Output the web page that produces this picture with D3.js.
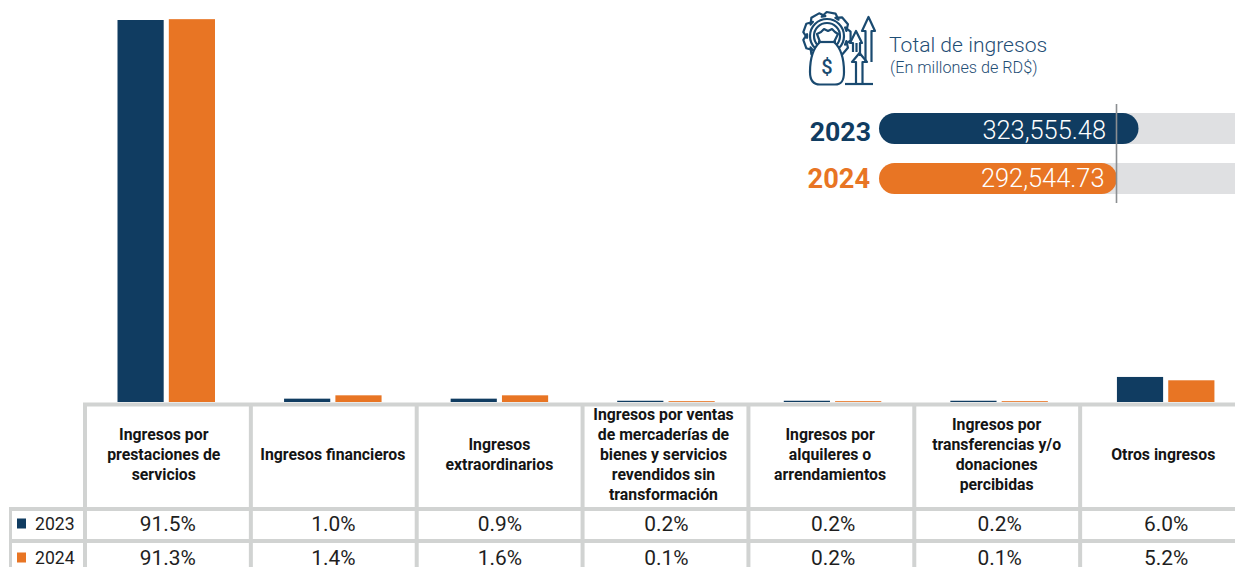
<!DOCTYPE html>
<html>
<head>
<meta charset="utf-8">
<title>Total de ingresos</title>
<script src="https://cdn.jsdelivr.net/npm/d3@7"></script>
<style>
  html, body { margin: 0; padding: 0; background: #fff; overflow: hidden; }
  text { font-family: Roboto, sans-serif; }
</style>
</head>
<body>
<div id="chart"></div>
<script>
var categories = [
  ['Ingresos por', 'prestaciones de', 'servicios'],
  ['Ingresos financieros'],
  ['Ingresos', 'extraordinarios'],
  ['Ingresos por ventas', 'de mercaderías de', 'bienes y servicios', 'revendidos sin', 'transformación'],
  ['Ingresos por', 'alquileres o', 'arrendamientos'],
  ['Ingresos por', 'transferencias y/o', 'donaciones', 'percibidas'],
  ['Otros ingresos']
]
var years = ['2023', '2024']
// bar heights as they read on the picture
var bars2023 = [91.5, 0.8, 0.8, 0.3, 0.3, 0.3, 6.0]
var bars2024 = [91.7, 1.6, 1.6, 0.2, 0.2, 0.2, 5.2]
// printed percentages in the table
var share2023 = ['91.5%', '1.0%', '0.9%', '0.2%', '0.2%', '0.2%', '6.0%']
var share2024 = ['91.3%', '1.4%', '1.6%', '0.1%', '0.2%', '0.1%', '5.2%']
var totals = [323555.48, 292544.73]

var navy = '#103c61'
var orange = '#e87524'
var grid = '#d1d3d2'
var colors = [navy, orange]

var w = 1235
var h = 567
var baseY = 402

var svg = d3.select('#chart').append('svg')
  .attr('width', w)
  .attr('height', h)
  .style('display', 'block')

var columns = d3.range(categories.length)

var x = d3.scaleBand().domain(columns).range([83.5, 1249.5])
var xTable = d3.scaleBand().domain(columns).range([85, 1246])
var y = d3.scaleLinear().domain([0, 91.5]).range([baseY, 20])
var xYear = d3.scaleBand().domain([0, 1]).range([34, 131.5]).paddingInner(0.1)

// bars
;[bars2023, bars2024].forEach(function (series, s) {
  svg.append('g').selectAll('rect')
    .data(series)
    .enter().append('rect')
    .attr('x', function (d, i) { return x(i) + xYear(s) })
    .attr('y', function (d) { return y(d) })
    .attr('width', xYear.bandwidth())
    .attr('height', function (d) { return baseY - y(d) })
    .attr('fill', colors[s])
})

// table grid
var rowLines = [404.5, 509, 541]
var gridG = svg.append('g').attr('stroke', grid).attr('stroke-width', 4)
rowLines.forEach(function (ry, i) {
  gridG.append('line')
    .attr('x1', i === 0 ? 83 : 9)
    .attr('x2', w)
    .attr('y1', ry)
    .attr('y2', ry)
})
columns.forEach(function (c) {
  gridG.append('line')
    .attr('x1', xTable(c))
    .attr('x2', xTable(c))
    .attr('y1', 403)
    .attr('y2', h)
})
gridG.append('line').attr('x1', 10.5).attr('x2', 10.5).attr('y1', 507).attr('y2', h).attr('stroke-width', 3)

// header labels, the two short ones sit a bit further right
var headerNudge = [-3, -0.5, -0.5, -3, -3, -3, -3]
var headers = svg.append('g').attr('text-anchor', 'middle')
categories.forEach(function (lines, c) {
  var top = 454 - (lines.length - 1) * 10
  lines.forEach(function (line, j) {
    headers.append('text')
      .attr('x', x(c) + x.bandwidth() / 2 + headerNudge[c])
      .attr('y', top + j * 20)
      .attr('dy', '0.36em')
      .attr('font-size', 15.8)
      .attr('font-weight', 700)
      .attr('fill', '#141414')
      .text(line)
  })
})

// table values and legend
var rowY = [523.5, 557.5]
;[share2023, share2024].forEach(function (series, s) {
  svg.append('rect')
    .attr('x', 17)
    .attr('y', rowY[s] - 5)
    .attr('width', 9)
    .attr('height', 10)
    .attr('fill', colors[s])
  svg.append('text')
    .attr('x', 35)
    .attr('y', rowY[s])
    .attr('dy', '0.36em')
    .attr('font-size', 17.6)
    .attr('fill', '#1e1e1e')
    .text(years[s])
  svg.append('g').attr('text-anchor', 'middle').selectAll('text')
    .data(series)
    .enter().append('text')
    .attr('x', function (d, i) { return x(i) + x.bandwidth() / 2 + (i === 0 ? 1 : 0) })
    .attr('y', rowY[s])
    .attr('dy', '0.36em')
    .attr('font-size', 20.9)
    .attr('fill', '#1e1e1e')
    .text(function (d) { return d })
})

// total panel
var xTotal = d3.scaleLinear().domain([totals[1], totals[0]]).range([1117, 1138.5])
var totalRows = [113, 163]
var valueY = [129.5, 178]
var yearY = [131, 178]
var yearRight = [871, 870]
var valueRight = [1106, 1104.5]
totals.forEach(function (v, i) {
  svg.append('rect')
    .attr('x', 895)
    .attr('y', totalRows[i])
    .attr('width', w - 895)
    .attr('height', 31)
    .attr('fill', '#dfe0e2')
  svg.append('rect')
    .attr('x', 879)
    .attr('y', totalRows[i])
    .attr('width', xTotal(v) - 879)
    .attr('height', 31)
    .attr('rx', 15.5)
    .attr('fill', colors[i])
  svg.append('text')
    .attr('x', valueRight[i])
    .attr('y', valueY[i])
    .attr('dy', '0.36em')
    .attr('text-anchor', 'end')
    .attr('font-size', 25.4)
    .attr('font-weight', 300)
    .attr('fill', '#fff')
    .text(d3.format(',.2f')(v))
  svg.append('text')
    .attr('x', yearRight[i])
    .attr('y', yearY[i])
    .attr('dy', '0.36em')
    .attr('text-anchor', 'end')
    .attr('font-size', i === 0 ? 26.7 : 27.2)
    .attr('font-weight', 700)
    .attr('fill', colors[i])
    .text(years[i])
})
svg.append('line')
  .attr('x1', 1116.5).attr('x2', 1116.5)
  .attr('y1', 104).attr('y2', 203)
  .attr('stroke', '#8b8e91')
  .attr('stroke-width', 1.6)

svg.append('text')
  .attr('x', 889).attr('y', 52)
  .attr('font-size', 21.1).attr('font-weight', 300)
  .attr('fill', '#1f4e75')
  .text('Total de ingresos')
svg.append('text')
  .attr('x', 890).attr('y', 73)
  .attr('font-size', 16.2).attr('font-weight', 300)
  .attr('fill', '#1f4e75')
  .text('(En millones de RD$)')

// icon
var icon = svg.append('g')
  .attr('fill', 'none')
  .attr('stroke', '#1a4a70')
  .attr('stroke-width', 2.2)
  .attr('stroke-linejoin', 'round')

var gearPts = []
d3.range(9).forEach(function (k) {
  var a = k * 2 * Math.PI / 9
  var s = 0.17
  ;[[-2.6 * s, 20], [-1.1 * s, 24], [1.1 * s, 24], [2.6 * s, 20]].forEach(function (p) {
    gearPts.push([827 + p[1] * Math.cos(a + p[0]), 36 + p[1] * Math.sin(a + p[0])])
  })
})
icon.append('path').attr('d', d3.line()(gearPts) + 'Z')
icon.append('circle').attr('cx', 827).attr('cy', 36).attr('r', 17)
icon.append('circle').attr('cx', 827).attr('cy', 36).attr('r', 13)

// money bag
icon.append('path')
  .attr('fill', '#fff')
  .attr('d', 'M820 42 C811 50 810 62 810 72 C810 80 813 84.5 820 84.5 L835 84.5 C842 84.5 844 80 844 72 C844 62 843 50 834 42 Z')
icon.append('path')
  .attr('fill', '#fff')
  .attr('d', 'M820 42 L817 34 L821 32 L824 29 L828 31 L832 29 L835 32 L838 34 L834 42 Z')
icon.append('path').attr('d', 'M818 42 L836 42')
svg.append('text')
  .attr('x', 827).attr('y', 74)
  .attr('text-anchor', 'middle')
  .attr('font-size', 20).attr('font-weight', 500)
  .attr('fill', '#1a4a70')
  .text('$')

// arrows
icon.append('path').attr('d', 'M845 84 L873 84')
icon.append('path').attr('d', 'M856 84 L856 62 L852 62 L859.5 53 L867 62 L862.5 62 L862.5 84')
icon.append('path').attr('d', 'M853 52 L853 43 L850 43 L856 31 L862 43 L860 43 L860 56')
icon.append('path').attr('d', 'M865.5 62 L865.5 31 L862 31 L868.5 17 L875 31 L871.5 31 L871.5 62')
icon.append('path').attr('d', 'M856.5 43 L856.5 52')
</script>
</body>
</html>
